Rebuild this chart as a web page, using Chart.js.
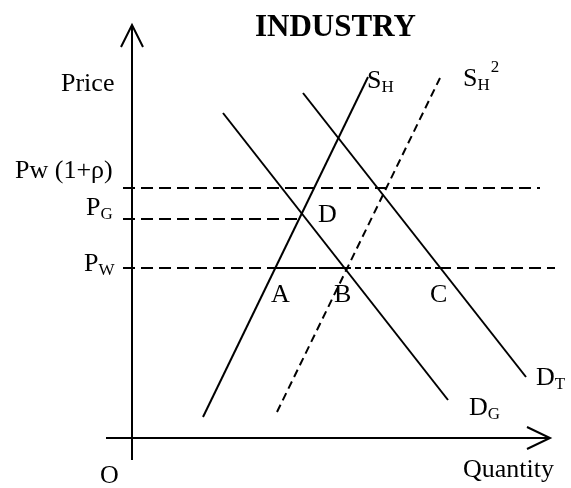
<!DOCTYPE html>
<html lang="en">
<head>
    <meta charset="UTF-8">
    <title>INDUSTRY</title>
    <script src="https://cdn.jsdelivr.net/npm/chart.js"></script>
    <style>
        body { margin: 0; background: #fff; }
        .chart-box { width: 571px; height: 488px; position: relative; }
    </style>
</head>
<body>
    <div class="chart-box">
        <canvas id="industryChart"></canvas>
    </div>

    <script>
        // Quantity / Price units, origin at O
        const supplyH = [[7.1, 2.1], [23.6, 36.1]];        // S_H
        const supplyH2 = [[14.5, 2.6], [30.8, 36.0]];      // S_H^2
        const demandG = [[9.1, 32.5], [31.6, 3.8]];        // D_G
        const demandT = [[17.1, 34.5], [39.4, 6.1]];       // D_T

        const priceNames = ['Pw (1+ρ)', 'P_G', 'P_W'];
        const priceValues = [25.0, 21.9, 17.0];
        const priceLineStart = [-0.9, -0.9, -0.9];
        const priceLineEnd = [40.8, 16.7, 42.3];
        // P_W line changes its dash pattern at A, B and C
        const pwBreaks = [-0.9, 14.4, 21.3, 30.7, 42.3];

        const xAxis = [[-2.6, 0], [41.8, 0]];
        const yAxis = [[0, -2.2], [0, 41.3]];
        const xArrow = [[39.5, 1.1], [41.8, 0], [39.5, -1.1]];
        const yArrow = [[-1.1, 39.1], [0, 41.3], [1.1, 39.1]];

        function pts(arr) {
            return arr.map(p => ({ x: p[0], y: p[1] }));
        }

        function lineSet(arr, dash) {
            return {
                data: pts(arr),
                showLine: true,
                borderColor: '#000',
                borderWidth: 2,
                borderDash: dash || [],
                pointRadius: 0,
                fill: false,
                tension: 0
            };
        }

        const datasets = [
            lineSet(xAxis), lineSet(yAxis), lineSet(xArrow), lineSet(yArrow),
            lineSet(supplyH), lineSet(supplyH2, [8, 5]),
            lineSet(demandG), lineSet(demandT),
            lineSet([[priceLineStart[0], priceValues[0]], [priceLineEnd[0], priceValues[0]]], [12, 6]),
            lineSet([[priceLineStart[1], priceValues[1]], [priceLineEnd[1], priceValues[1]]], [12, 6])
        ];
        const pwDashes = [[12, 6], [40, 3], [6, 4], [12, 6]];
        for (let i = 0; i < pwBreaks.length - 1; i++) {
            datasets.push(lineSet([[pwBreaks[i], priceValues[2]], [pwBreaks[i + 1], priceValues[2]]], pwDashes[i]));
        }

        // text labels: [main, sub, sup, x, y] in chart units (left, baseline)
        const labels = [
            ['Price', '', '', -7.1, 34.7],
            ['Pw (1+ρ)', '', '', -11.7, 26.0],
            ['P', 'G', '', -4.6, 22.3],
            ['P', 'W', '', -4.8, 16.7],
            ['S', 'H', '', 23.5, 35.0],
            ['S', 'H', '2', 33.1, 35.2],
            ['D', '', '', 18.6, 21.6],
            ['A', '', '', 13.9, 13.6],
            ['B', '', '', 20.2, 13.6],
            ['C', '', '', 29.8, 13.6],
            ['D', 'T', '', 40.4, 5.3],
            ['D', 'G', '', 33.7, 2.3],
            ['O', '', '', -3.2, -4.5],
            ['Quantity', '', '', 33.1, -3.9]
        ];

        const textPlugin = {
            id: 'diagramText',
            afterDraw(chart) {
                const ctx = chart.ctx;
                const xs = chart.scales.x, ys = chart.scales.y;
                ctx.save();
                ctx.fillStyle = '#000';
                ctx.textBaseline = 'alphabetic';
                ctx.textAlign = 'left';

                ctx.font = 'bold 31px "Liberation Serif"';
                ctx.fillText('INDUSTRY', xs.getPixelForValue(12.3), ys.getPixelForValue(40.2));

                labels.forEach(l => {
                    let px = xs.getPixelForValue(l[3]);
                    const py = ys.getPixelForValue(l[4]);
                    ctx.font = '26px "Liberation Serif"';
                    ctx.fillText(l[0], px, py);
                    px += ctx.measureText(l[0]).width;
                    ctx.font = '17px "Liberation Serif"';
                    if (l[1]) {
                        ctx.fillText(l[1], px, py + 4);
                        px += ctx.measureText(l[1]).width;
                    }
                    if (l[2]) {
                        ctx.fillText(l[2], px + 1, py - 14);
                    }
                });
                ctx.restore();
            }
        };

        new Chart(document.getElementById('industryChart'), {
            type: 'scatter',
            data: { datasets: datasets },
            options: {
                responsive: true,
                maintainAspectRatio: false,
                animation: false,
                layout: { padding: 0 },
                plugins: {
                    legend: { display: false },
                    tooltip: { enabled: false },
                    title: { display: false }
                },
                scales: {
                    x: { type: 'linear', min: -13.2, max: 43.9, display: false },
                    y: { type: 'linear', min: -5.0, max: 43.8, display: false }
                }
            },
            plugins: [textPlugin]
        });
    </script>
</body>
</html>
